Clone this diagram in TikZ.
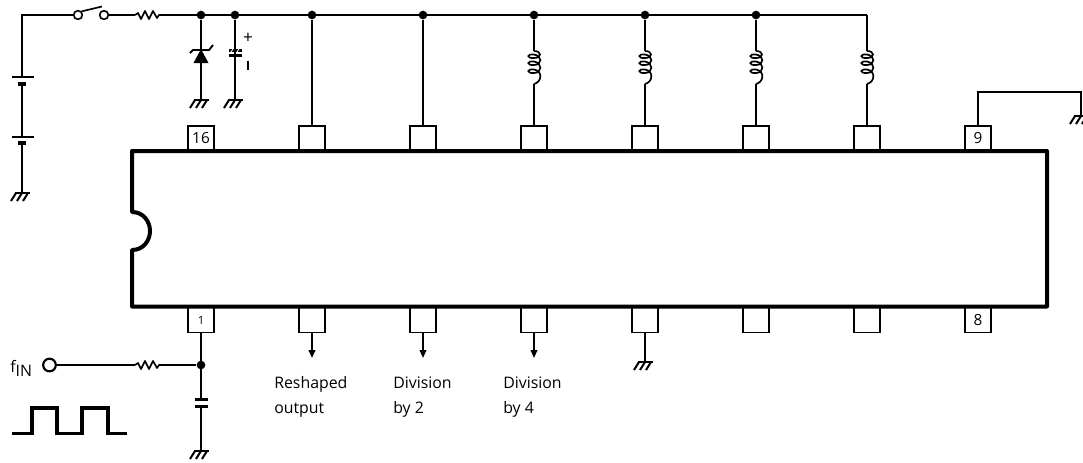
\documentclass[tikz,border=0pt]{standalone}
\usepackage{fontspec}
\setmainfont{Open Sans}
\usetikzlibrary{arrows.meta}
\tikzset{
  x=0.75pt,y=-0.75pt,
  wire/.style={line width=1.25pt,line cap=butt},
  pinbox/.style={draw,line width=1.15pt,minimum width=19.5pt,minimum height=18.5pt,inner sep=0pt,font=\fontsize{11.5pt}{12pt}\selectfont},
  dotj/.style={circle,fill=black,inner sep=0pt,minimum size=6.5pt},
  term/.style={circle,draw,fill=white,inner sep=0pt,line width=1.2pt},
  lbl/.style={inner sep=0pt,anchor=base west,font=\fontsize{11.9pt}{13pt}\selectfont},
  outarrow/.style={wire,-{Triangle[length=6pt,width=5pt]}},
  gnd/.pic={
    \draw[line width=1.5pt] (-7,0) -- (8,0);
    \draw[line width=1.5pt] (-6,0) -- (-11,8) (0,0) -- (-5,8) (6,0) -- (1,8);
  },
  res/.pic={
    \draw[wire,line join=round] (-13,0) -- (-10,-2) -- (-7,4) -- (-3,-4) -- (1,4) -- (5,-4) -- (9,3) -- (11,0) -- (13,0);
  },
  coil/.pic={
    \draw[line width=1.25pt] (0,0) .. controls (8,0) and (8,7) .. (0,7)
      .. controls (-8,7.5) and (-7,2.5) .. (0,3.5) .. controls (9,5) and (8,14) .. (0,14)
      .. controls (-8,14.5) and (-7,9.5) .. (0,10.5) .. controls (9,12) and (8,22) .. (0,22)
      .. controls (-8,22.5) and (-7,17.5) .. (0,18.5) .. controls (9,20) and (8,31) .. (0,33);
  },
}
\begin{document}
\begin{tikzpicture}
\useasboundingbox (0,0) rectangle (1083,462);
% pins
\node[pinbox] (p16) at (201,138.5) {16};
\node[pinbox] (p15) at (312,138.5) {};
\node[pinbox] (p14) at (423,138.5) {};
\node[pinbox] (p13) at (534,138.5) {};
\node[pinbox] (p12) at (645,138.5) {};
\node[pinbox] (p11) at (756,138.5) {};
\node[pinbox] (p10) at (867,138.5) {};
\node[pinbox] (p9) at (978,138.5) {9};
\node[pinbox,font=\fontsize{8.5pt}{9pt}\selectfont] (p1) at (201,320) {1};
\node[pinbox] (p2) at (312,320) {};
\node[pinbox] (p3) at (423,320) {};
\node[pinbox] (p4) at (534,320) {};
\node[pinbox] (p5) at (645,320) {};
\node[pinbox] (p6) at (756,320) {};
\node[pinbox] (p7) at (867,320) {};
\node[pinbox] (p8) at (978,320) {8};
% IC body
\draw[line width=3pt,line join=round,fill=white] (132,151) -- (1047,151) -- (1047,306.5) -- (132,306.5) -- (132,250)
  .. controls (143,250) and (150,241) .. (150,231) .. controls (150,221) and (143,212) .. (132,212) -- cycle;
% supply bus
\coordinate (tl) at (22,15);
\coordinate (tr) at (867,15);
\node[term,minimum size=6.5pt] (sw1) at (78,15) {};
\node[term,minimum size=6.5pt] (sw2) at (104,15) {};
\coordinate (r1) at (148,15);
\node[dotj] (j1) at (201,15) {};
\node[dotj] (j2) at (235,15) {};
\node[dotj] (j3) at (312,15) {};
\node[dotj] (j4) at (423,15) {};
\node[dotj] (j5) at (534,15) {};
\node[dotj] (j6) at (645,15) {};
\node[dotj] (j7) at (756,15) {};
\draw[wire] (sw1) -- (tl) -- (22,77);
\draw[wire] (sw2) -- (135,15);
\draw[wire] (161,15) -- (tr);
\draw[wire] (sw1.north east) -- (102,6.5);
\pic at (r1) {res};
% batteries
\coordinate (b1) at (22,77);
\coordinate (b2) at (22,137);
\coordinate (g0) at (22,193);
\draw[line width=1.2pt] (12,77) -- (34,77) (12,137) -- (34,137);
\draw[line width=3pt] (18,83.5) -- (26,83.5) (18,142.5) -- (26,142.5);
\draw[wire] (22,85) -- (b2) (22,144) -- (g0);
\pic at (g0) {gnd};
% zener
\coordinate (g1) at (201,100);
\draw[wire] (j1) -- (g1);
\fill (201,49) -- (208.5,63) -- (193.5,63) -- cycle;
\draw[line width=1.4pt] (190,53) -- (193,50) -- (209,50) -- (213,45);
\pic at (g1) {gnd};
% electrolytic capacitor
\coordinate (g2) at (235,100);
\draw[wire] (j2) -- (g2);
\draw[line width=2.3pt] (229,50.5) -- (242,50.5) (229,55.5) -- (242,55.5);
\draw[line width=0.6pt,white] (233,49) -- (231,52) (239,49) -- (237,52);
\pic at (g2) {gnd};
\node[inner sep=0pt,font=\fontsize{13pt}{13pt}\selectfont] (plus) at (248,38.5) {+};
\draw[line width=1.1pt] (248,61) -- (248,70);
% loads
\draw[wire] (j3) -- (p15);
\draw[wire] (j4) -- (p14);
\foreach \j/\p/\c in {j5/p13/534,j6/p12/645,j7/p11/756,tr/p10/867}{
  \draw[wire] (\j) -- (\c,51);
  \draw[wire] (\c,84) -- (\p);
  \pic at (\c,51) {coil};
}
% pin 9
\coordinate (n1) at (978,92);
\coordinate (n2) at (1081,92);
\coordinate (g3) at (1081,116);
\draw[wire] (p9) -- (n1) -- (n2) -- (g3);
\pic at (g3) {gnd};
% input
\node[term,minimum size=9.5pt,line width=1.6pt] (in) at (49.5,365) {};
\node[dotj] (j8) at (201,365) {};
\coordinate (r2) at (148,365);
\draw[wire] (in) -- (135,365) (161,365) -- (j8);
\pic at (r2) {res};
\coordinate (g4) at (201,451);
\draw[wire] (p1) -- (g4);
\fill[white] (194,401) rectangle (209,405);
\draw[line width=2.2pt] (195,399.5) -- (208,399.5) (195,406.5) -- (208,406.5);
\pic at (g4) {gnd};
\node[lbl] (fin) at (10,372) {f\raisebox{-3pt}{IN}};
\draw[line width=2.7pt,line join=miter] (12,433.5) -- (32,433.5) -- (32,408) -- (57,408) -- (57,433.5) -- (82,433.5) -- (82,408) -- (108,408) -- (108,433.5) -- (127,433.5);
% outputs
\coordinate (o2) at (312,358);
\coordinate (o3) at (423,358);
\coordinate (o4) at (534,358);
\coordinate (g5) at (645,362);
\draw[outarrow] (p2) -- (o2);
\draw[outarrow] (p3) -- (o3);
\draw[outarrow] (p4) -- (o4);
\draw[wire] (p5) -- (g5);
\pic at (g5) {gnd};
\node[lbl] (t1) at (274,388) {Reshaped};
\node[lbl] (t2) at (274,413) {output};
\node[lbl] (t3) at (393,388) {Division};
\node[lbl] (t4) at (393,413) {by 2};
\node[lbl] (t5) at (503,388) {Division};
\node[lbl] (t6) at (503,413) {by 4};
\end{tikzpicture}
\end{document}
